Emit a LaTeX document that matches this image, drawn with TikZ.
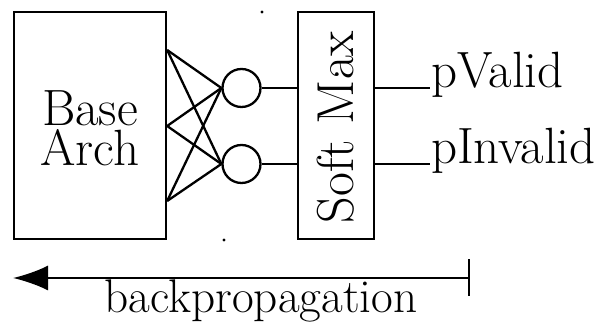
\documentclass[tikz,border=0pt]{standalone}
\usetikzlibrary{arrows.meta}
\begin{document}
\begin{tikzpicture}[x=0.5pt,y=-0.5pt,
  line width=1.15pt,
  box/.style={draw,line width=1.15pt,inner sep=0pt},
  neuron/.style={draw,circle,line width=1.15pt,minimum size=19pt,inner sep=0pt},
  txt/.style={font=\fontsize{25.5}{20}\selectfont,inner sep=0pt},
  dotmark/.style={fill,circle,inner sep=0pt,minimum size=1.6pt}]
\useasboundingbox (0,0) rectangle (599,324);
% boxes
\node[box,minimum width=76pt,minimum height=113.5pt] (base) at (90,125.5) {};
\node[txt,align=center] (basetxt) at (90,128) {Base\\Arch};
\node[box,minimum width=38pt,minimum height=113.5pt] (soft) at (336,125.5) {};
\node[txt,rotate=90,font=\fontsize{26}{26}\selectfont] (softtxt) at (336,127) {Soft Max};
% neurons
\node[neuron] (n1) at (241.5,88) {};
\node[neuron] (n2) at (241.5,164) {};
% input coordinates on base box
\coordinate (i1) at (base.north east |- 0,50);
\coordinate (i2) at (base.north east |- 0,126);
\coordinate (i3) at (base.north east |- 0,201);
\foreach \i in {i1,i2,i3}{
  \draw (\i) -- (n1.west);
  \draw (\i) -- (n2.west);
}
\draw (n1.east) -- (soft.west |- n1.east);
\draw (n2.east) -- (soft.west |- n2.east);
% outputs
\node[txt,anchor=base west] (pv) at (430,88) {pValid};
\node[txt,anchor=base west] (pi) at (430,164) {pInvalid};
\draw (soft.east |- n1.east) -- (pv.base west);
\draw (soft.east |- n2.east) -- (pi.base west);
% stray dots
\node[dotmark] (d1) at (262,12) {};
\node[dotmark] (d2) at (224,240) {};
% backprop arrow
\coordinate (bl) at (13,278);
\coordinate (br) at (470,278);
\draw[{Latex[length=17.5pt,width=12.5pt]}-{Bar[width=18.5pt]}] (bl) -- (br);
\node[txt,font=\fontsize{23.6}{24}\selectfont,anchor=base] (bp) at (261,313) {backpropagation};
\end{tikzpicture}
\end{document}
